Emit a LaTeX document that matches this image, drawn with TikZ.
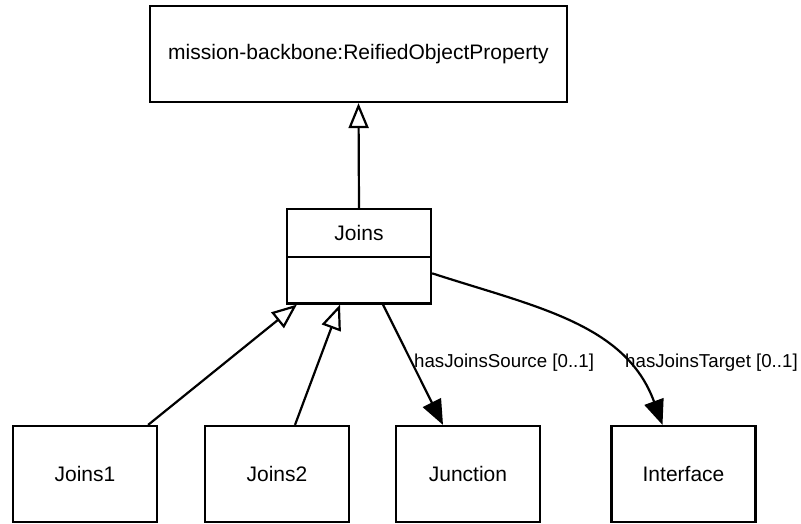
\documentclass[tikz,border=0pt]{standalone}
\usepackage{fontspec}
\setmainfont{Liberation Sans}
\usetikzlibrary{arrows.meta,shapes.multipart}

\begin{document}
\begin{tikzpicture}[
  x=1pt, y=-1pt,
  every node/.style={font=\fontsize{21}{25}\selectfont},
  cls/.style={
    draw,
    line width=2.2pt,
    inner sep=0pt,
    minimum width=144pt,
    minimum height=96pt
  },
  lbl/.style={font=\fontsize{18.7}{22}\selectfont, inner sep=0pt, anchor=west},
  gen/.style={-{Triangle[open, length=25pt, width=20pt]}, line width=2.2pt},
  assoc/.style={-{Triangle[length=25pt, width=20pt]}, line width=2.2pt}
]
\useasboundingbox (0,0) rectangle (801,523);
\node[cls, minimum width=417pt] (reified) at (358.5,54) {mission-backbone:ReifiedObjectProperty};
\node[cls, rectangle split, rectangle split parts=2, anchor=north] (joins) at (359,208)
  {\rule[-16pt]{0pt}{46pt}Joins\nodepart{two}\rule{0pt}{44pt}};
\node[cls] (joinsone) at (85,474) {Joins1};
\node[cls] (joinstwo) at (277,474) {Joins2};
\node[cls] (junction) at (468,474) {Junction};
\node[cls] (interface) at (683.5,474) {Interface};
\node[lbl] (srclbl) at (414,363) {hasJoinsSource [0..1]};
\node[lbl] (tgtlbl) at (625,363) {hasJoinsTarget [0..1]};
\draw[gen] (joins.north) -- (reified.south);
\draw[gen] ([xshift=-10pt]joinsone.north east) -- ([xshift=11pt]joins.south west);
\draw[gen] ([xshift=18pt]joinstwo.north) -- ([xshift=-19pt]joins.south);
\draw[assoc] ([xshift=24pt]joins.south) -- ([xshift=-25pt]junction.north);
\draw[assoc] ([yshift=-17pt]joins.east) to[out=-18, in=110] ([xshift=-21pt]interface.north);
\end{tikzpicture}
\end{document}
